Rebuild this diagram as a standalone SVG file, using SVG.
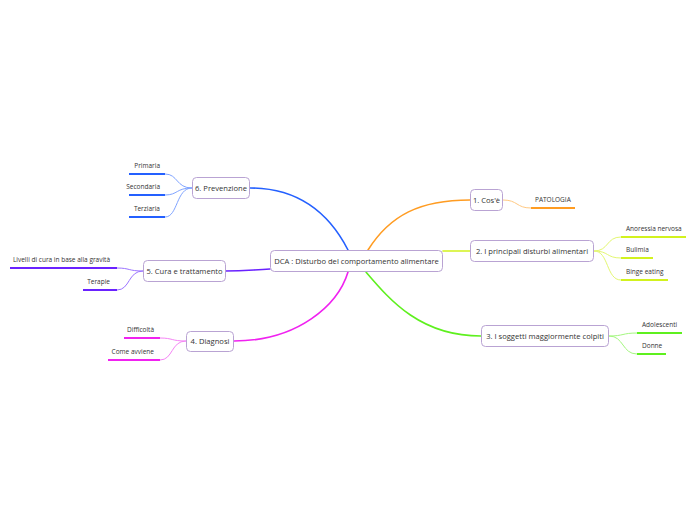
<svg xmlns="http://www.w3.org/2000/svg" width="696" height="520" viewBox="0 0 696 520">
<style>
.bg{fill:#ffffff}
.box{fill:#ffffff;stroke:#b9a3d3;stroke-width:1}
.nt{font-family:"Open Sans","DejaVu Sans",sans-serif;font-size:7.6px;fill:#333333;text-anchor:middle}
.ct{font-family:"Open Sans","DejaVu Sans",sans-serif;font-size:6.5px;fill:#333333}
.e{text-anchor:end}
.main{fill:none;stroke-width:1.6;stroke-linecap:round}
.sub{fill:none;stroke-width:1}
.ul{fill:none;stroke-width:2}
.blue{stroke:#2460ff}.blueL{stroke:#80a4ff}
.orange{stroke:#ff9c22}.orangeL{stroke:#ffc983}
.yel{stroke:#d2f21e}.yelL{stroke:#e3f770}
.green{stroke:#5ef01e}.greenL{stroke:#a4f77f}
.mag{stroke:#f022f0}.magL{stroke:#f584f5}
.pur{stroke:#6a22ff}.purL{stroke:#9c74ff}
</style>
<rect class="bg" x="0" y="0" width="696" height="520"/>
<g id="connectors">
<path class="main blue" d="M348,250 C330,215 300,188 250,188"/>
<path class="main orange" d="M368,250 C390,215 420,200 470,200"/>
<path class="main yel" d="M443,251 L470,251"/>
<path class="main green" d="M366,272 C390,300 420,336 481,336"/>
<path class="main mag" d="M348,272 C338,305 298,341 234,341"/>
<path class="main pur" d="M270,269 C250,270 245,271 225,271"/>
<path class="sub blueL" d="M192,188 C176,188 178,174 165,174"/>
<path class="sub blueL" d="M192,188 C176,188 178,195 165,195"/>
<path class="sub blueL" d="M192,188 C176,188 178,217 165,217"/>
<path class="sub purL" d="M143,271 C128,271 130,268 117,268"/>
<path class="sub purL" d="M143,271 C128,271 130,290 117,290"/>
<path class="sub magL" d="M186,341 C171,341 173,338 160,338"/>
<path class="sub magL" d="M186,341 C171,341 173,360 160,360"/>
<path class="sub orangeL" d="M503,200 C518,200 516,208 531,208"/>
<path class="sub yelL" d="M594,251 C609,251 606,237 621,237"/>
<path class="sub yelL" d="M594,251 C609,251 606,258 621,258"/>
<path class="sub yelL" d="M594,251 C609,251 606,280 621,280"/>
<path class="sub greenL" d="M609,336 C624,336 622,333 637,333"/>
<path class="sub greenL" d="M609,336 C624,336 622,354 637,354"/>
</g>
<g id="central">
<rect class="box" x="270.5" y="250.5" width="172" height="21" rx="4"/>
<text class="nt" x="356.5" y="263.7">DCA : Disturbo del comportamento alimentare</text>
</g>
<g id="n6">
<rect class="box" x="192.5" y="177.5" width="57" height="21" rx="4"/>
<text class="nt" x="221" y="190.7">6. Prevenzione</text>
</g>
<g id="n6-primaria"><path class="ul blue" d="M129,174 H165"/><text class="ct e" x="160" y="168">Primaria</text></g>
<g id="n6-secondaria"><path class="ul blue" d="M129,195 H165"/><text class="ct e" x="160" y="189">Secondaria</text></g>
<g id="n6-terziaria"><path class="ul blue" d="M129,217 H165"/><text class="ct e" x="160" y="211">Terziaria</text></g>
<g id="n5">
<rect class="box" x="143.5" y="260.5" width="82" height="21" rx="4"/>
<text class="nt" x="184.5" y="273.7">5. Cura e trattamento</text>
</g>
<g id="n5-livelli"><path class="ul pur" d="M10,268 H117"/><text class="ct e" x="110" y="262">Livelli di cura in base alla gravità</text></g>
<g id="n5-terapie"><path class="ul pur" d="M83,290 H117"/><text class="ct e" x="110" y="284">Terapie</text></g>
<g id="n4">
<rect class="box" x="186.5" y="331.5" width="47" height="20" rx="4"/>
<text class="nt" x="210" y="344.2">4. Diagnosi</text>
</g>
<g id="n4-difficolta"><path class="ul mag" d="M124,338 H160"/><text class="ct e" x="154" y="332">Difficoltà</text></g>
<g id="n4-come"><path class="ul mag" d="M108,360 H160"/><text class="ct e" x="154" y="354">Come avviene</text></g>
<g id="n1">
<rect class="box" x="470.5" y="189.5" width="32" height="21" rx="4"/>
<text class="nt" x="486.5" y="202.7">1. Cos'è</text>
</g>
<g id="n1-patologia"><path class="ul orange" d="M531,208 H575"/><text class="ct" x="535" y="202">PATOLOGIA</text></g>
<g id="n2">
<rect class="box" x="470.5" y="240.5" width="123" height="21" rx="4"/>
<text class="nt" x="532" y="253.7">2. I principali disturbi alimentari</text>
</g>
<g id="n2-anoressia"><path class="ul yel" d="M621,237 H686"/><text class="ct" x="626" y="231">Anoressia nervosa</text></g>
<g id="n2-bulimia"><path class="ul yel" d="M621,258 H653"/><text class="ct" x="626" y="252">Bulimia</text></g>
<g id="n2-binge"><path class="ul yel" d="M621,280 H668"/><text class="ct" x="626" y="274">Binge eating</text></g>
<g id="n3">
<rect class="box" x="481.5" y="325.5" width="127" height="21" rx="4"/>
<text class="nt" x="545" y="338.7">3. I soggetti maggiormente colpiti</text>
</g>
<g id="n3-adolescenti"><path class="ul green" d="M637,333 H682"/><text class="ct" x="642" y="327">Adolescenti</text></g>
<g id="n3-donne"><path class="ul green" d="M637,354 H666"/><text class="ct" x="642" y="348">Donne</text></g>
</svg>
